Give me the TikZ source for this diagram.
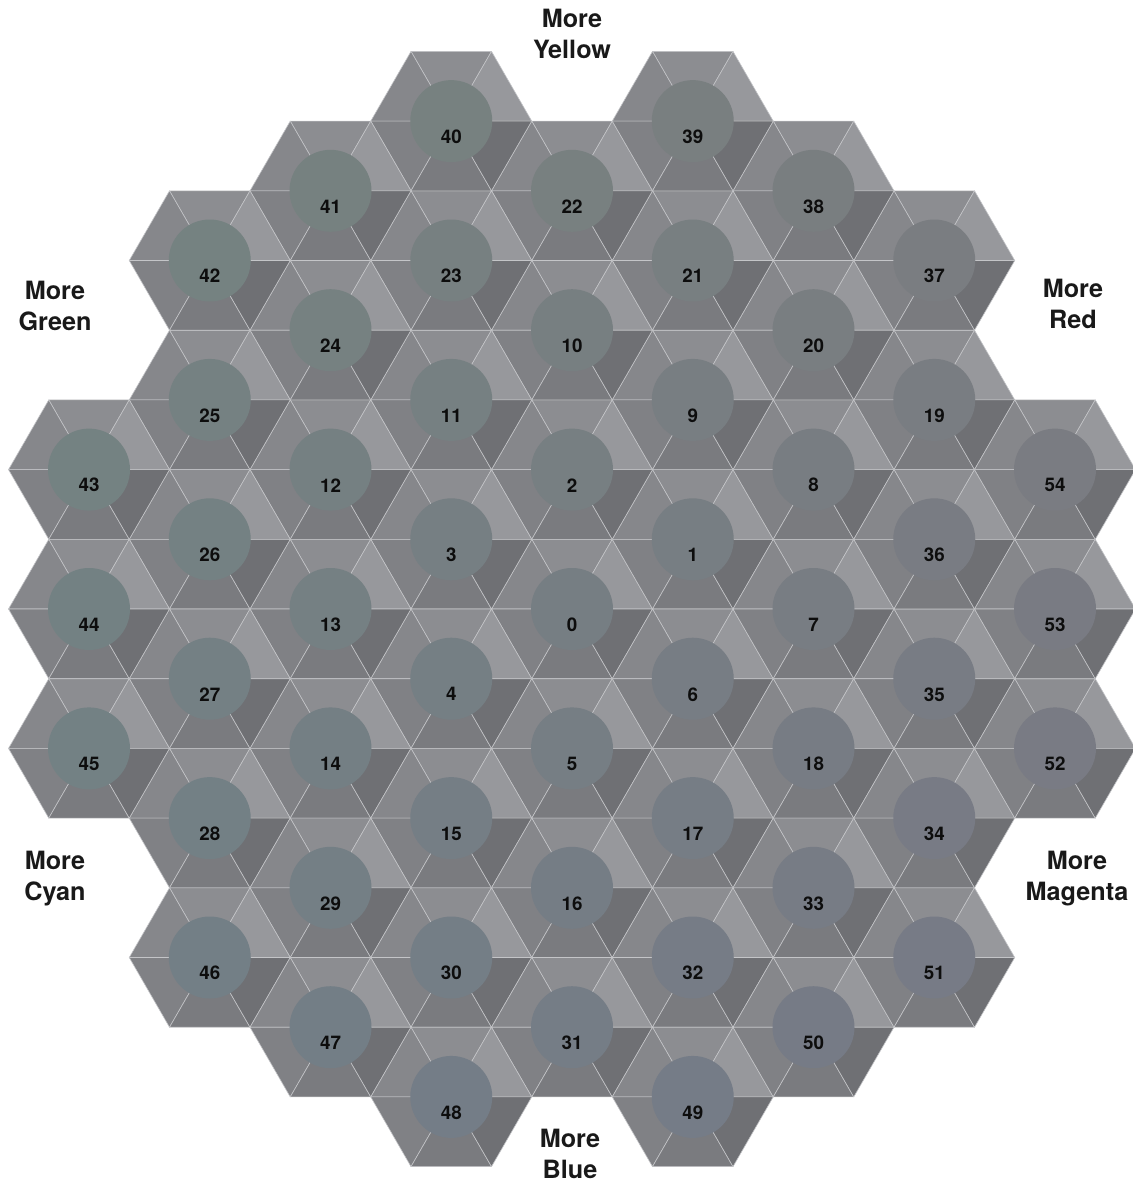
\documentclass[tikz,border=0pt]{standalone}
\usepackage{fontspec}
\setmainfont{TeX Gyre Heros}
\usepackage{tikz}
\usetikzlibrary{positioning}
\definecolor{fTop}{RGB}{140,141,145}
\definecolor{fUR}{RGB}{151,152,156}
\definecolor{fUL}{RGB}{134,135,139}
\definecolor{fLL}{RGB}{128,129,133}
\definecolor{fBot}{RGB}{122,123,127}
\definecolor{fLR}{RGB}{111,112,116}
\definecolor{seam}{RGB}{196,197,200}

\begin{document}
\begin{tikzpicture}[x=0.5pt,y=-0.5pt,
  facet/.style={draw=seam,line width=0.3pt,line join=round},
  disc/.style={circle,draw=none,minimum size=41pt,inner sep=0pt},
  num/.style={font=\fontsize{9.4}{11}\selectfont\bfseries,text=black!95,inner sep=0pt},
  more/.style={font=\fontsize{12.6}{15.5}\selectfont\bfseries,text=black!90,align=center,inner sep=0pt}]
  \useasboundingbox (0,0) rectangle (1133,1184);
  % cell number / column / half-row
  \foreach \n/\c/\r in {0/0/0,1/1/-1,2/0/-2,3/-1/-1,4/-1/1,5/0/2,6/1/1,
      7/2/0,8/2/-2,9/1/-3,10/0/-4,11/-1/-3,12/-2/-2,13/-2/0,14/-2/2,15/-1/3,
      16/0/4,17/1/3,18/2/2,19/3/-3,20/2/-4,21/1/-5,22/0/-6,23/-1/-5,24/-2/-4,
      25/-3/-3,26/-3/-1,27/-3/1,28/-3/3,29/-2/4,30/-1/5,31/0/6,32/1/5,33/2/4,
      34/3/3,35/3/1,36/3/-1,37/3/-5,38/2/-6,39/1/-7,40/-1/-7,41/-2/-6,42/-3/-5,
      43/-4/-2,44/-4/0,45/-4/2,46/-3/5,47/-2/6,48/-1/7,49/1/7,50/2/6,51/3/5,
      52/4/2,53/4/0,54/4/-2}{
    \coordinate (h\n) at ({572+120.75*(\c)},{609+69.7*(\r)});
    \begin{scope}[shift={(h\n)}]
      \filldraw[facet,fill=fTop] (0,0) -- (40.25,-69.7) -- (-40.25,-69.7) -- cycle;
      \filldraw[facet,fill=fUR] (0,0) -- (80.5,0) -- (40.25,-69.7) -- cycle;
      \filldraw[facet,fill=fUL] (0,0) -- (-40.25,-69.7) -- (-80.5,0) -- cycle;
      \filldraw[facet,fill=fLL] (0,0) -- (-80.5,0) -- (-40.25,69.7) -- cycle;
      \filldraw[facet,fill=fBot] (0,0) -- (-40.25,69.7) -- (40.25,69.7) -- cycle;
      \filldraw[facet,fill=fLR] (0,0) -- (40.25,69.7) -- (80.5,0) -- cycle;
    \end{scope}
    % tint of the disc follows its place on the ring-around
    \pgfmathtruncatemacro\tR{round(118+0.75*(\c)-0.25*(\r))}
    \pgfmathtruncatemacro\tG{round(126-0.75*(\c)-0.25*(\r))}
    \pgfmathtruncatemacro\tB{round(131+0.5*(\r))}
    \definecolor{tint}{RGB}{\tR,\tG,\tB}
    \node[disc,fill=tint] (c\n) at (h\n) {};
    \node[num] (n\n) at ([yshift=-7.8pt]c\n.center) {\n};
  }
  \node[more] (yel) at (572,34) {More\\Yellow};
  \node[more] (grn) at (55,306) {More\\Green};
  \node[more] (red) at (1073,304) {More\\Red};
  \node[more] (cyn) at (55,879) {More\\Cyan};
  \node[more] (mag) at (1077,879) {More\\Magenta};
  \node[more] (blu) at (570,1154) {More\\Blue};
\end{tikzpicture}
\end{document}
